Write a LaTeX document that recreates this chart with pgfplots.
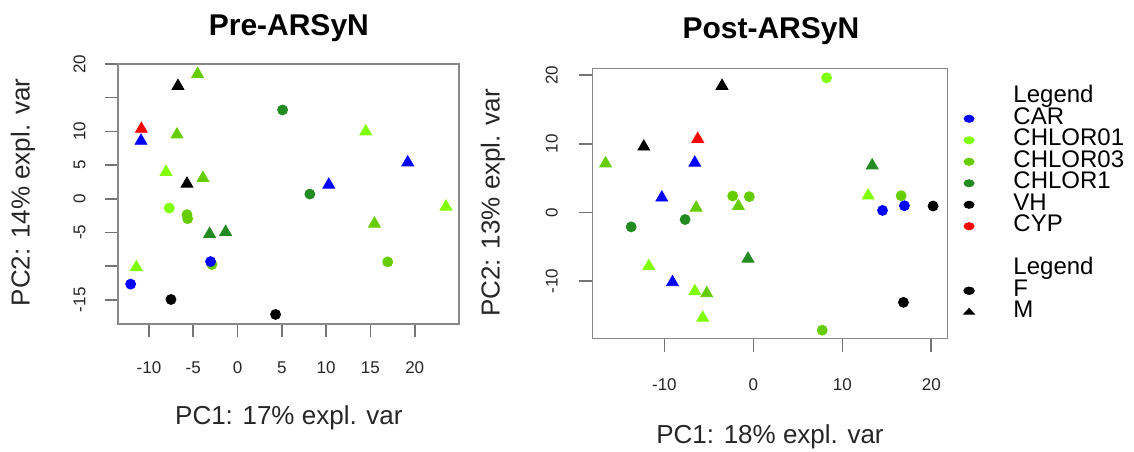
\documentclass[border=0pt]{standalone}
\usepackage{fontspec}
\setmainfont{Liberation Sans}
\usepackage{pgfplots}
\pgfplotsset{compat=1.18}
\definecolor{car}{HTML}{0000FF}
\definecolor{chlorA}{HTML}{7FFF00}
\definecolor{chlorB}{HTML}{66CD00}
\definecolor{chlorC}{HTML}{228B22}
\definecolor{frame}{HTML}{888888}

\pgfplotsset{
  pca/.style={
    scale only axis,
    anchor=south west,
    clip=false,
    axis line style={draw=frame, line width=0.7pt},
    tick style={draw=frame!85!black, line width=0.8pt},
    tick align=outside,
    major tick length=6.5pt,
    xtick pos=left, ytick pos=left,
    tick label style={font=\fontsize{8.5}{10}\selectfont, text=black!85},
    /pgf/number format/assume math mode=true,
    label style={font=\fontsize{13}{15}\selectfont, text=black!85},
    title style={font=\bfseries\fontsize{15}{18}\selectfont, anchor=base},
    only marks,
  },
  circ/.style={mark=*, mark size=2.5pt, color=#1},
  tri/.style={mark=triangle*, mark size=3.4pt, color=#1},
}

\begin{document}
\begin{tikzpicture}
\useasboundingbox (0,0) rectangle (567pt,-225.5pt);

% Pre-ARSyN
\begin{axis}[pca,
  at={(59pt,-162pt)}, width=170.5pt, height=130pt,
  xmin=-13.5, xmax=25, ymin=-18.6, ymax=20,
  xtick={-10,-5,0,5,10,15,20},
  ytick={-15,-10,-5,0,5,10,15,20},
  yticklabels={-15,,-5,0,5,10,,20},
  xticklabel style={anchor=center, yshift=-15.5pt},
  yticklabel style={xshift=-12.7pt, rotate=90, anchor=center},
  title={Pre-ARSyN}, title style={at={(0.501,1)}, yshift=8.5pt},
  xlabel={PC1: 17\% expl. var}, xlabel style={at={(axis description cs:0.501,-0.385)}, anchor=base},
  ylabel={PC2: 14\% expl. var}, ylabel style={at={(axis description cs:-0.279,0.506)}, anchor=center},
]
\addplot[tri=chlorA] coordinates {(14.47,9.97) (-8.08,3.95) (23.53,-1.19) (-11.43,-10.17)};
\addplot[circ=chlorA] coordinates {(-7.71,-1.38)};
\addplot[tri=chlorB] coordinates {(-4.51,18.51) (-6.84,9.52) (-3.91,3.06) (15.45,-3.71)};
\addplot[circ=chlorB] coordinates {(-5.71,-2.37) (-5.64,-2.96) (-2.89,-9.77) (16.95,-9.38)};
\addplot[circ=chlorC] coordinates {(5.08,13.18) (8.16,0.69)};
\addplot[tri=chlorC] coordinates {(-3.16,-5.24) (-1.35,-4.94)};
\addplot[tri=car] coordinates {(-10.9,8.59) (19.21,5.38) (10.3,2.07)};
\addplot[circ=car] coordinates {(-3.05,-9.33) (-12.07,-12.68)};
\addplot[tri=black] coordinates {(-6.73,16.73) (-5.71,2.22)};
\addplot[circ=black] coordinates {(-7.52,-14.96) (4.29,-17.18)};
\addplot[tri=red] coordinates {(-10.86,10.36)};
\end{axis}

% Post-ARSyN
\begin{axis}[pca,
  at={(296.15pt,-169.35pt)}, width=177.5pt, height=135.2pt,
  xmin=-18.1, xmax=21.8, ymin=-18.4, ymax=21.0,
  xtick={-10,0,10,20}, ytick={-10,0,10,20},
  xticklabel style={anchor=center, yshift=-16.65pt},
  yticklabel style={xshift=-13.8pt, rotate=90, anchor=center},
  title={Post-ARSyN}, title style={at={(0.503,1)}, yshift=9.15pt},
  xlabel={PC1: 18\% expl. var}, xlabel style={at={(axis description cs:0.5006,-0.389)}, anchor=base},
  ylabel={PC2: 13\% expl. var}, ylabel style={at={(axis description cs:-0.280,0.502)}, anchor=center},
  legend style={at={(1.0132,0.9327)}, anchor=north west, draw=none, fill=none,
    inner sep=0pt, outer sep=0pt, font=\fontsize{12}{14}\selectfont,
    row sep=0pt, column sep=19.5pt,
    nodes={inner sep=0pt, text height=8pt, text depth=2.75pt},
    cells={anchor=west}},
]
\addplot[forget plot, circ=chlorA] coordinates {(8.23,19.61)};
\addplot[forget plot, tri=chlorA] coordinates {(12.91,2.44) (-11.75,-7.83) (-6.58,-11.50) (-5.69,-15.36)};
\addplot[forget plot, tri=chlorB] coordinates {(-16.61,7.13) (-1.68,0.92) (-6.43,0.68) (-5.24,-11.79)};
\addplot[forget plot, circ=chlorB] coordinates {(-2.32,2.40) (-0.45,2.30) (16.61,2.44) (7.74,-17.16)};
\addplot[forget plot, tri=chlorC] coordinates {(13.36,6.84) (-0.6,-6.75)};
\addplot[forget plot, circ=chlorC] coordinates {(-7.67,-1.03) (-13.73,-2.10)};
\addplot[forget plot, tri=car] coordinates {(-6.58,7.23) (-10.29,2.15) (-9.09,-10.18)};
\addplot[forget plot, circ=car] coordinates {(14.52,0.29) (16.98,0.98)};
\addplot[forget plot, tri=black] coordinates {(-3.52,18.43) (-12.31,9.58)};
\addplot[forget plot, circ=black] coordinates {(20.2,0.93) (16.87,-13.1)};
\addplot[forget plot, tri=red] coordinates {(-6.25,10.70)};

\addlegendimage{empty legend}\addlegendentry{Legend}
\addlegendimage{only marks, mark=*, mark size=1.8pt, color=car, mark options={xscale=1.4}}\addlegendentry{CAR}
\addlegendimage{only marks, mark=*, mark size=1.8pt, color=chlorA, mark options={xscale=1.4}}\addlegendentry{CHLOR01}
\addlegendimage{only marks, mark=*, mark size=1.8pt, color=chlorB, mark options={xscale=1.4}}\addlegendentry{CHLOR03}
\addlegendimage{only marks, mark=*, mark size=1.8pt, color=chlorC, mark options={xscale=1.4}}\addlegendentry{CHLOR1}
\addlegendimage{only marks, mark=*, mark size=1.8pt, color=black, mark options={xscale=1.4}}\addlegendentry{VH}
\addlegendimage{only marks, mark=*, mark size=1.8pt, color=red, mark options={xscale=1.4}}\addlegendentry{CYP}
\addlegendimage{empty legend}\addlegendentry{\mbox{}}
\addlegendimage{empty legend}\addlegendentry{Legend}
\addlegendimage{only marks, mark=*, mark size=1.9pt, color=black, mark options={xscale=1.4}}\addlegendentry{F}
\addlegendimage{only marks, mark=triangle*, mark size=2.4pt, color=black, mark options={xscale=1.3, yscale=0.8}}\addlegendentry{M}
\end{axis}
\end{tikzpicture}
\end{document}
